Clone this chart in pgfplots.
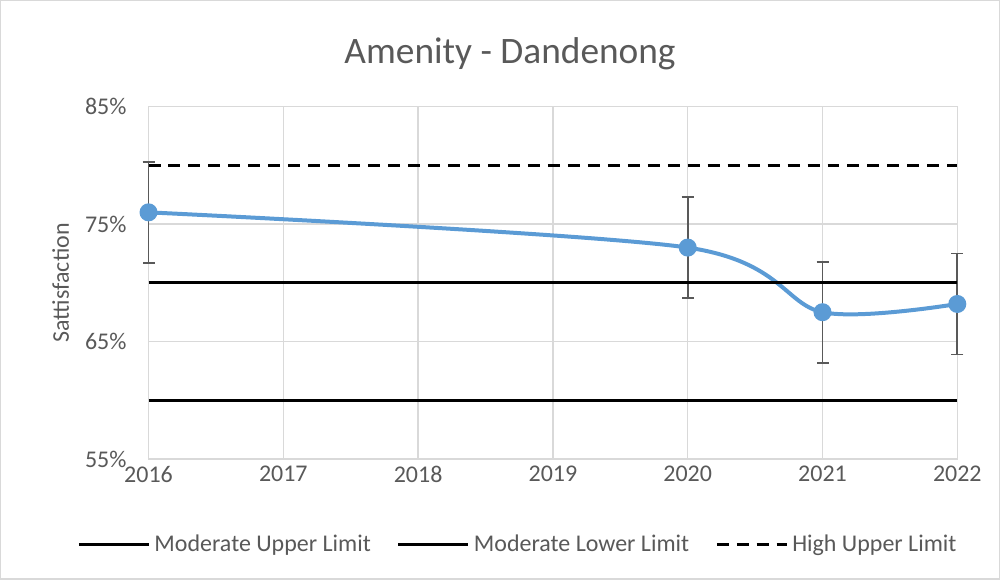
\documentclass[border=0pt]{standalone}
\usepackage{pgfplots}
\pgfplotsset{compat=1.18}
\usepackage{fontspec}
\setmainfont{Carlito}
\definecolor{txtgray}{HTML}{595959}
\definecolor{gridgray}{HTML}{D9D9D9}
\definecolor{exblue}{HTML}{5B9BD5}
\begin{document}
\begin{tikzpicture}
\draw[gridgray, line width=0.75pt, use as bounding box] (0,0) rectangle (500pt,289.5pt);
\begin{axis}[
    at={(74pt,60pt)}, anchor=south west,
    scale only axis,
    width=405pt, height=176.5pt,
    xmin=2016, xmax=2022, ymin=55, ymax=85,
    clip=false,
    xtick={2016,2017,2018,2019,2020,2021,2022},
    xticklabels={2016,2017,2018,2019,2020,2021,2022},
    ytick={55,65,75,85},
    yticklabels={55\%,65\%,75\%,85\%},
    major tick length=0pt,
    xmajorgrids, ymajorgrids,
    grid style={gridgray, line width=0.75pt},
    axis line style={gridgray, line width=0.75pt},
    ticklabel style={font=\fontsize{12}{14}\selectfont, text=txtgray},
    yticklabel style={xshift=-7.5pt},
    xticklabel style={yshift=0pt},
    ylabel={Sattisfaction},
    ylabel style={font=\fontsize{12}{14}\selectfont, text=txtgray},
    every axis y label/.append style={at={(axis description cs:-0.1086,0.5)}, anchor=center},
    title={Amenity - Dandenong},
    title style={at={(axis description cs:0.447,1.116)}, anchor=center,
        font=\fontsize{18.7}{22}\selectfont, text=txtgray},
    legend columns=3,
    legend style={draw=none, fill=none, at={(axis description cs:0.458,-0.243)}, anchor=center,
        font=\fontsize{12}{14}\selectfont, text=txtgray,
        /tikz/every even column/.append style={column sep=11pt}},
    legend image code/.code={\draw[#1] (0pt,0pt) -- (35pt,0pt);},
]
\addplot[forget plot, color=exblue, line width=2pt, smooth, mark=*, mark size=3.5pt,
    mark options={fill=exblue, draw=exblue},
    error bars/.cd, y dir=both, y explicit,
    error bar style={color=txtgray, line width=0.9pt},
    error mark options={rotate=90, mark size=3pt, color=txtgray, line width=0.9pt}]
    coordinates {(2016,76.0) +- (0,4.3) (2020,73.0) +- (0,4.3) (2021,67.5) +- (0,4.3) (2022,68.2) +- (0,4.3)};
\addplot[black, line width=1.6pt] coordinates {(2016,70) (2022,70)};
\addlegendentry{Moderate Upper Limit}
\addplot[black, line width=1.6pt] coordinates {(2016,60) (2022,60)};
\addlegendentry{Moderate Lower Limit}
\addplot[black, line width=1.6pt, dash pattern=on 6pt off 4pt] coordinates {(2016,80) (2022,80)};
\addlegendentry{High Upper Limit}
\end{axis}
\end{tikzpicture}
\end{document}
